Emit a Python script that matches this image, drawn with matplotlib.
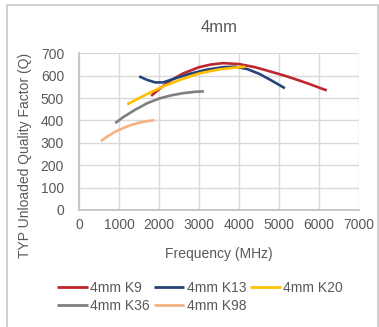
import matplotlib.pyplot as plt
from matplotlib.patches import Rectangle

# values
k9_f = [1800, 2000, 2300, 2600, 3000, 3300, 3600, 4000, 4400, 4800, 5200, 5700, 6200]
k9_q = [510, 540, 580, 610, 638, 650, 656, 652, 638, 618, 597, 567, 534]
k13_f = [1500, 1700, 1900, 2100, 2400, 2800, 3200, 3600, 3900, 4200, 4500, 4800, 5150]
k13_q = [597, 581, 570, 570, 588, 610, 627, 638, 640, 630, 609, 580, 544]
k20_f = [1200, 1500, 1800, 2100, 2500, 3000, 3500, 3900, 4150]
k20_q = [472, 500, 527, 552, 580, 610, 628, 636, 640]
k36_f = [900, 1100, 1400, 1700, 2000, 2300, 2600, 2900, 3120]
k36_q = [388, 415, 448, 477, 498, 512, 522, 528, 530]
k98_f = [540, 700, 900, 1100, 1300, 1500, 1700, 1880]
k98_q = [308, 328, 350, 366, 380, 390, 397, 401]

series = [
    ('4mm K9', k9_f, k9_q, '#c0272d'),
    ('4mm K13', k13_f, k13_q, '#264478'),
    ('4mm K20', k20_f, k20_q, '#ffc000'),
    ('4mm K36', k36_f, k36_q, '#7f7f7f'),
    ('4mm K98', k98_f, k98_q, '#f4b183'),
]
x_ticks = [0, 1000, 2000, 3000, 4000, 5000, 6000, 7000]
y_ticks = [0, 100, 200, 300, 400, 500, 600, 700]

txt = '#595959'
plt.rcParams['font.family'] = ['Liberation Sans', 'DejaVu Sans']

fig = plt.figure(figsize=(3.79, 3.27), dpi=100)
fig.patches.append(Rectangle((7 / 379, -0.05), 371 / 379, 1 - 5 / 327 + 0.05,
                             transform=fig.transFigure, fill=False,
                             edgecolor='#c8c8c8', linewidth=1.2))
ax = fig.add_axes([0.2093, 0.3578, 0.7372, 0.4792])

lines = {}
for name, f, q, c in series:
    lines[name], = ax.plot(f, q, color=c, linewidth=1.9, solid_capstyle='butt', label=name)

ax.set_xlim(0, 7000)
ax.set_ylim(0, 700)
ax.set_xticks(x_ticks)
ax.set_yticks(y_ticks)
ax.grid(True, color='#d9d9d9', linewidth=1.0)
ax.set_axisbelow(True)
for s in ['top', 'right']:
    ax.spines[s].set_visible(False)
for s in ['left', 'bottom']:
    ax.spines[s].set_color('#bfbfbf')
    ax.spines[s].set_linewidth(1.2)
ax.tick_params(length=0, labelsize=10, labelcolor=txt)
ax.tick_params(axis='y', pad=11)
ax.tick_params(axis='x', pad=6)

ax.set_title('4mm', color=txt, fontsize=12, pad=15)
ax.set_xlabel('Frequency (MHz)', color=txt, fontsize=10)
ax.set_ylabel('TYP Unloaded Quality Factor (Q)', color=txt, fontsize=10)
ax.xaxis.set_label_coords(0.5, -0.236)
ax.yaxis.set_label_coords(-0.169, 0.351)

order = ['4mm K9', '4mm K36', '4mm K13', '4mm K98', '4mm K20']
leg = fig.legend([lines[n] for n in order], order, ncol=3, frameon=False,
                 loc='center', bbox_to_anchor=(200 / 379, 1 - 297 / 327),
                 fontsize=10, handlelength=2.2, handletextpad=0.15,
                 columnspacing=0.3, labelspacing=0.3, borderpad=0)
for t in leg.get_texts():
    t.set_color(txt)
for h in leg.get_lines():
    h.set_linewidth(2.0)

fig.savefig('out.png', dpi=100)
